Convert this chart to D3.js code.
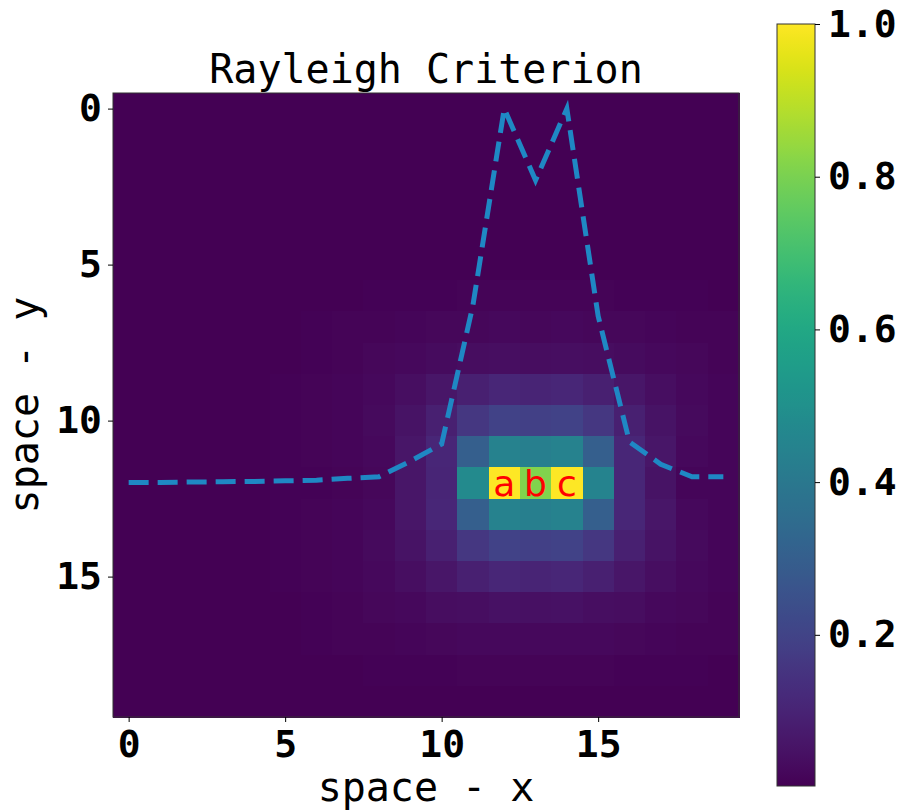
<!DOCTYPE html>
<html>
<head>
<meta charset="utf-8">
<script src="https://cdn.jsdelivr.net/npm/d3@7"></script>
<style>
  html, body { margin: 0; padding: 0; background: #ffffff; }
  svg { display: block; }
</style>
</head>
<body>
<svg id="chart" width="904" height="811"></svg>
<script>
// Intensity image of two point sources (20 x 20 pixels), rows = y, columns = x
const intensity = [
  [0.003,0.003,0.003,0.003,0.003,0.003,0.003,0.003,0.003,0.003,0.003,0.003,0.003,0.003,0.003,0.003,0.003,0.003,0.003,0.003],
  [0.003,0.003,0.003,0.003,0.003,0.003,0.003,0.003,0.003,0.003,0.003,0.003,0.003,0.003,0.003,0.003,0.003,0.003,0.003,0.003],
  [0.003,0.003,0.003,0.003,0.003,0.003,0.003,0.003,0.003,0.003,0.003,0.003,0.003,0.003,0.003,0.003,0.003,0.003,0.003,0.003],
  [0.003,0.003,0.003,0.003,0.003,0.003,0.003,0.003,0.003,0.003,0.003,0.003,0.003,0.003,0.003,0.003,0.003,0.003,0.003,0.003],
  [0.003,0.003,0.003,0.003,0.003,0.003,0.003,0.003,0.003,0.003,0.003,0.003,0.003,0.003,0.003,0.003,0.003,0.003,0.003,0.003],
  [0.003,0.003,0.003,0.003,0.003,0.003,0.003,0.003,0.003,0.003,0.004,0.005,0.005,0.005,0.005,0.005,0.004,0.003,0.003,0.003],
  [0.003,0.003,0.003,0.003,0.003,0.003,0.004,0.005,0.006,0.008,0.009,0.010,0.010,0.010,0.010,0.010,0.009,0.008,0.006,0.005],
  [0.003,0.003,0.003,0.003,0.003,0.004,0.006,0.010,0.012,0.015,0.018,0.020,0.022,0.021,0.022,0.020,0.018,0.015,0.012,0.010],
  [0.003,0.003,0.003,0.003,0.003,0.005,0.008,0.012,0.018,0.025,0.030,0.035,0.040,0.037,0.040,0.035,0.030,0.025,0.018,0.012],
  [0.003,0.003,0.003,0.003,0.004,0.006,0.010,0.015,0.025,0.040,0.060,0.090,0.110,0.100,0.110,0.090,0.060,0.040,0.025,0.015],
  [0.003,0.003,0.003,0.003,0.004,0.006,0.010,0.016,0.028,0.050,0.090,0.160,0.200,0.190,0.200,0.160,0.090,0.050,0.028,0.016],
  [0.003,0.003,0.003,0.003,0.004,0.006,0.010,0.016,0.025,0.060,0.110,0.300,0.440,0.430,0.440,0.300,0.110,0.060,0.025,0.016],
  [0.002,0.002,0.003,0.003,0.004,0.006,0.008,0.013,0.018,0.058,0.104,0.475,1.000,0.810,1.000,0.450,0.110,0.050,0.017,0.017],
  [0.003,0.003,0.003,0.003,0.004,0.006,0.010,0.016,0.025,0.060,0.110,0.300,0.440,0.430,0.440,0.300,0.110,0.060,0.025,0.016],
  [0.003,0.003,0.003,0.003,0.004,0.006,0.010,0.016,0.028,0.050,0.090,0.160,0.200,0.190,0.200,0.160,0.090,0.050,0.028,0.016],
  [0.003,0.003,0.003,0.003,0.004,0.006,0.010,0.015,0.025,0.040,0.060,0.090,0.110,0.100,0.110,0.090,0.060,0.040,0.025,0.015],
  [0.003,0.003,0.003,0.003,0.003,0.005,0.008,0.012,0.018,0.025,0.035,0.040,0.045,0.042,0.045,0.040,0.035,0.025,0.018,0.012],
  [0.003,0.003,0.003,0.003,0.003,0.004,0.006,0.010,0.012,0.015,0.020,0.022,0.024,0.023,0.024,0.022,0.020,0.015,0.012,0.010],
  [0.003,0.003,0.003,0.003,0.003,0.003,0.004,0.005,0.006,0.008,0.009,0.010,0.010,0.010,0.010,0.010,0.009,0.008,0.006,0.005],
  [0.003,0.003,0.003,0.003,0.003,0.003,0.003,0.003,0.003,0.003,0.004,0.005,0.005,0.005,0.005,0.005,0.004,0.003,0.003,0.003]
];

// Horizontal cut through row 12, plotted in image (y) coordinates
const profileX = [0,1,2,3,4,5,6,7,8,9,10,11,12,13,14,15,16,17,18,19];
const profileY = [11.98,11.98,11.97,11.96,11.95,11.93,11.91,11.85,11.8,11.3,10.75,6.3,0,2.3,0,6.65,10.68,11.4,11.8,11.8];

// Markers on the three brightest pixels
const markerText = ["a", "b", "c"];
const markerCol = [12, 13, 14];
const markerRow = 12;

const xTicks = [0, 5, 10, 15];
const yTicks = [0, 5, 10, 15];
const cbarTicks = [0.2, 0.4, 0.6, 0.8, 1.0];

const titleText = "Rayleigh Criterion";
const xLabel = "space - x";
const yLabel = "space - y";

const nRows = intensity.length, nCols = intensity[0].length;
const svg = d3.select("#chart");
const MONO = "'DejaVu Sans Mono', 'Liberation Mono', monospace";

const plot = { left: 113, right: 739, top: 93, bottom: 717 };
const x = d3.scaleLinear().domain([-0.5, nCols - 0.5]).range([plot.left, plot.right]);
const y = d3.scaleLinear().domain([-0.5, nRows - 0.5]).range([plot.top, plot.bottom]);

const flat = intensity.flat();
const vmin = d3.min(flat), vmax = d3.max(flat);
const color = d3.scaleSequential(d3.interpolateViridis).domain([vmin, vmax]);

// heatmap cells
const cells = [];
intensity.forEach((row, j) => row.forEach((v, i) => cells.push({ i, j, v })));
svg.append("g")
  .selectAll("rect")
  .data(cells)
  .join("rect")
  .attr("x", d => x(d.i - 0.5))
  .attr("y", d => y(d.j - 0.5))
  .attr("width", d => x(d.i + 0.5) - x(d.i - 0.5) + 0.5)
  .attr("height", d => y(d.j + 0.5) - y(d.j - 0.5) + 0.5)
  .attr("fill", d => color(d.v))
  .attr("shape-rendering", "crispEdges");

// profile line
const line = d3.line().x((d, k) => x(profileX[k])).y(d => y(d));
svg.append("path")
  .datum(profileY)
  .attr("d", line)
  .attr("fill", "none")
  .attr("stroke", "#1f88c4")
  .attr("stroke-width", 5)
  .attr("stroke-dasharray", "20,9")
  .attr("stroke-linejoin", "miter")
  .attr("stroke-linecap", "butt");

// letter markers
svg.append("g")
  .selectAll("text")
  .data(markerText)
  .join("text")
  .attr("x", (d, k) => x(markerCol[k]))
  .attr("y", y(markerRow) + 13)
  .attr("text-anchor", "middle")
  .attr("font-family", "'DejaVu Sans', sans-serif")
  .attr("font-size", 36)
  .attr("fill", "#ff0000")
  .text(d => d);

// frame
svg.append("rect")
  .attr("x", plot.left).attr("y", plot.top)
  .attr("width", plot.right - plot.left).attr("height", plot.bottom - plot.top)
  .attr("fill", "none").attr("stroke", "#333").attr("stroke-width", 1);

function styleAxis(g) {
  g.select(".domain").remove();
  g.selectAll(".tick line").attr("stroke", "#000").attr("stroke-width", 1);
  g.selectAll(".tick text")
    .attr("font-family", MONO)
    .attr("font-weight", "bold")
    .attr("font-size", 38)
    .attr("fill", "#000");
}

svg.append("g")
  .attr("transform", `translate(0,${plot.bottom})`)
  .call(d3.axisBottom(x).tickValues(xTicks).tickSize(5).tickPadding(8).tickFormat(d3.format("d")))
  .call(styleAxis);

svg.append("g")
  .attr("transform", `translate(${plot.left},0)`)
  .call(d3.axisLeft(y).tickValues(yTicks).tickSize(5).tickPadding(6).tickFormat(d3.format("d")))
  .call(styleAxis);

// title and axis labels
svg.append("text")
  .attr("x", (plot.left + plot.right) / 2).attr("y", 83)
  .attr("text-anchor", "middle")
  .attr("font-family", MONO).attr("font-size", 40).attr("fill", "#000")
  .text(titleText);

svg.append("text")
  .attr("x", (plot.left + plot.right) / 2).attr("y", 801)
  .attr("text-anchor", "middle")
  .attr("font-family", MONO).attr("font-size", 40).attr("fill", "#000")
  .text(xLabel);

svg.append("text")
  .attr("transform", `translate(38,${(plot.top + plot.bottom) / 2}) rotate(-90)`)
  .attr("text-anchor", "middle")
  .attr("font-family", MONO).attr("font-size", 40).attr("fill", "#000")
  .text(yLabel);

// colorbar
const cb = { left: 777, right: 815, top: 24, bottom: 786 };
const cbScale = d3.scaleLinear().domain([vmin, vmax]).range([cb.bottom, cb.top]);
const defs = svg.append("defs");
const grad = defs.append("linearGradient")
  .attr("id", "cbar-grad")
  .attr("x1", 0).attr("y1", 1).attr("x2", 0).attr("y2", 0);
d3.range(0, 1.0001, 0.02).forEach(t => {
  grad.append("stop")
    .attr("offset", t)
    .attr("stop-color", d3.interpolateViridis(t));
});
svg.append("rect")
  .attr("x", cb.left).attr("y", cb.top)
  .attr("width", cb.right - cb.left).attr("height", cb.bottom - cb.top)
  .attr("fill", "url(#cbar-grad)")
  .attr("stroke", "#333").attr("stroke-width", 1);

svg.append("g")
  .attr("transform", `translate(${cb.right},0)`)
  .call(d3.axisRight(cbScale).tickValues(cbarTicks).tickSize(5).tickPadding(8).tickFormat(d3.format(".1f")))
  .call(styleAxis);
</script>
</body>
</html>
